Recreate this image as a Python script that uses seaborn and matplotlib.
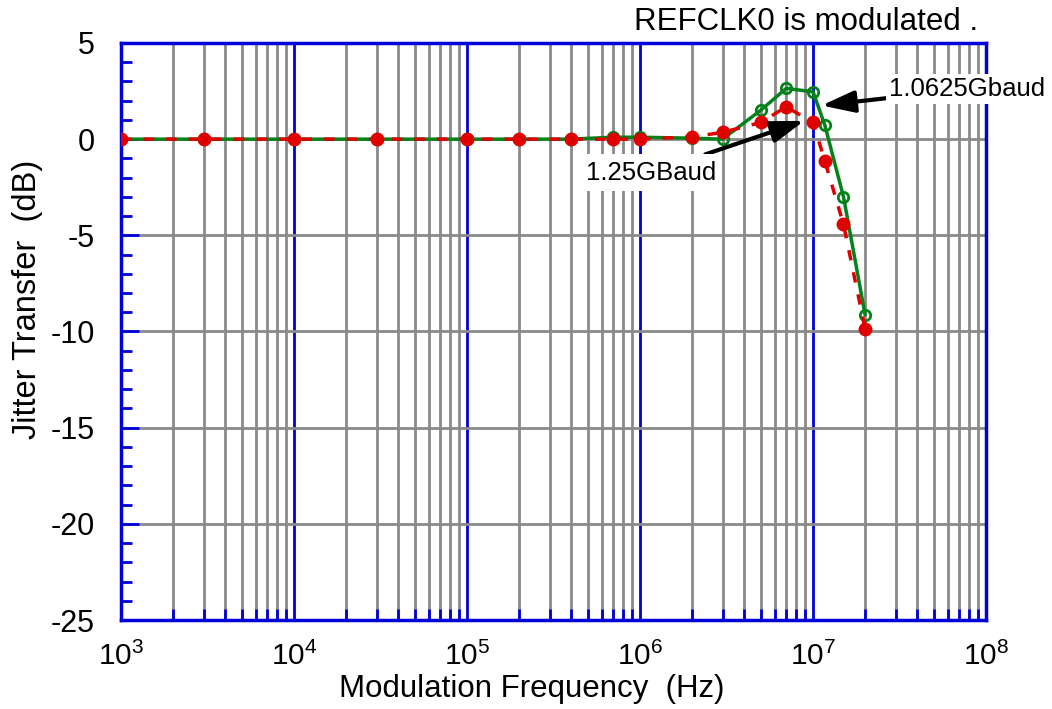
import numpy as np
import pandas as pd
import matplotlib
matplotlib.use("Agg")
import matplotlib.pyplot as plt
import seaborn as sns
from matplotlib.ticker import LogLocator, MultipleLocator, NullFormatter

# --- Data ---
freq_125 = [1e3, 3e3, 1e4, 3e4, 1e5, 2e5, 4e5, 7e5, 1e6, 2e6, 3e6, 5e6, 7e6, 1e7, 1.17e7, 1.5e7, 2e7]
jt_125 = [0, 0, 0, 0, 0, 0, 0, 0, 0, 0.12, 0.35, 0.87, 1.68, 0.87, -1.13, -4.43, -9.86]

freq_10625 = [1e3, 3e3, 1e4, 3e4, 1e5, 2e5, 4e5, 7e5, 1e6, 2e6, 3e6, 5e6, 7e6, 1e7, 1.17e7, 1.5e7, 2e7]
jt_10625 = [0, 0, 0, 0, 0, 0, 0, 0.1, 0.1, 0.05, 0, 1.51, 2.64, 2.46, 0.73, -3.0, -9.13]

df_125 = pd.DataFrame({"freq": freq_125, "jt": jt_125})
df_10625 = pd.DataFrame({"freq": freq_10625, "jt": jt_10625})

sns.set_theme(style="white")
plt.rcParams["font.family"] = ["Liberation Sans", "DejaVu Sans"]
plt.rcParams["mathtext.fontset"] = "custom"
plt.rcParams["mathtext.rm"] = "Liberation Sans"
plt.rcParams["mathtext.it"] = "Liberation Sans"
plt.rcParams["axes.unicode_minus"] = False
plt.rcParams["text.color"] = "black"
plt.rcParams["axes.labelcolor"] = "black"

BLUE = "#0000d8"
GRAY = "#8a8a8a"
GREEN = "#04821a"
RED = "#e00000"

fig = plt.figure(figsize=(10.52, 7.09), dpi=100)
ax = fig.add_axes([0.115, 0.1255, 0.8223, 0.8139])

sns.lineplot(data=df_10625, x="freq", y="jt", ax=ax, color=GREEN, lw=2.5,
             marker="o", markersize=7.5, markerfacecolor="none", markeredgecolor=GREEN,
             markeredgewidth=2, estimator=None, sort=False, zorder=4)
sns.lineplot(data=df_125, x="freq", y="jt", ax=ax, color=RED, lw=2.5,
             linestyle=(0, (3, 3.5)), marker="o", markersize=10, markeredgewidth=0,
             estimator=None, sort=False, zorder=5)

ax.set_xscale("log")
ax.set_xlim(1e3, 1e8)
ax.set_ylim(-25, 5)

ax.xaxis.set_major_locator(LogLocator(base=10, numticks=10))
ax.xaxis.set_minor_locator(LogLocator(base=10, subs=np.arange(2, 10), numticks=100))
ax.xaxis.set_minor_formatter(NullFormatter())
ax.yaxis.set_major_locator(MultipleLocator(5))
ax.yaxis.set_minor_locator(MultipleLocator(1))

ax.grid(True, which="major", axis="x", color=BLUE, lw=2, zorder=1)
ax.grid(True, which="minor", axis="x", color=GRAY, lw=2, zorder=1)
ax.grid(True, which="major", axis="y", color=GRAY, lw=2, zorder=1)
ax.set_axisbelow(True)

for s in ax.spines.values():
    s.set_color(BLUE)
    s.set_linewidth(2.5)

ax.tick_params(axis="x", which="major", direction="in", length=0, pad=16,
               labelsize=21.5, labelcolor="black", bottom=True)
ax.tick_params(axis="x", which="minor", direction="in", length=8, width=2,
               color=BLUE, bottom=True)
ax.tick_params(axis="y", which="major", direction="in", length=13, width=2,
               color=BLUE, labelsize=22, labelcolor="black", pad=19, left=True)
ax.tick_params(axis="y", which="minor", direction="in", length=8, width=2,
               color=BLUE, left=True)

ax.set_xlabel("Modulation Frequency  (Hz)", fontsize=22.5)
ax.set_ylabel("Jitter Transfer  (dB)", fontsize=23.5)
ax.xaxis.set_label_coords(0.475, -0.094)
ax.yaxis.set_label_coords(-0.090, 0.555)

fig.text(0.766, 0.969, "REFCLK0 is modulated .", fontsize=22.5, ha="center", va="center")

arrow = dict(arrowstyle="-|>,head_length=1.0,head_width=0.33", color="black", lw=3,
             mutation_scale=20, shrinkA=0, shrinkB=0)
ax.annotate("1.0625Gbaud", xy=(1.12e7, 1.75), xytext=(2.75e7, 2.6),
            fontsize=18.5, ha="left", va="center", arrowprops=arrow, zorder=6,
            bbox=dict(boxstyle="square,pad=0.12", fc="white", ec="none"))
ax.annotate("1.25GBaud", xy=(8.9e6, 0.95), xytext=(2.75e6, -1.75),
            fontsize=18.5, ha="right", va="center", arrowprops=arrow, zorder=6,
            bbox=dict(boxstyle="square,pad=0.25", fc="white", ec="none"))

fig.savefig("out.png", dpi=100)
